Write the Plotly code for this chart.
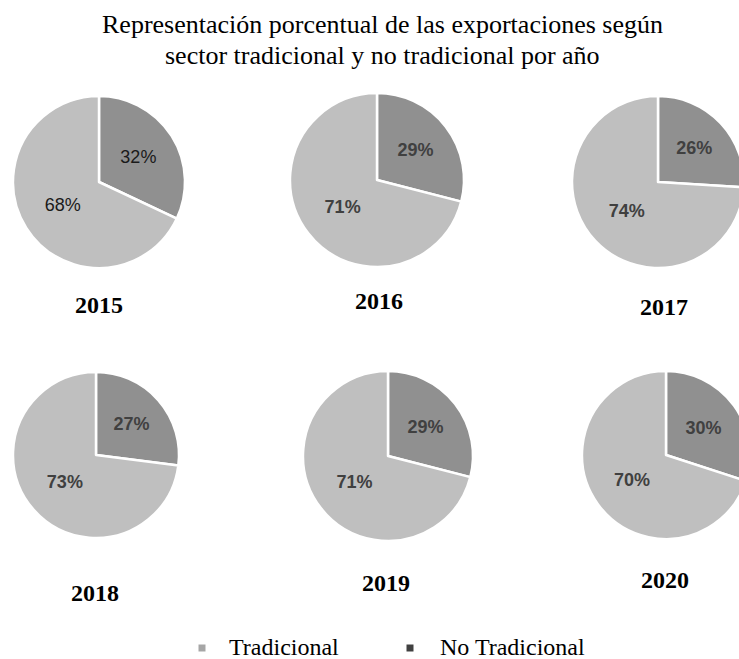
import plotly.graph_objects as go

years = ["2015", "2016", "2017", "2018", "2019", "2020"]
categories = ["No Tradicional", "Tradicional"]
no_tradicional = [32, 29, 26, 27, 29, 30]
tradicional = [68, 71, 74, 73, 71, 70]
title_lines = ["Representación porcentual de las exportaciones según",
               "sector tradicional y no tradicional por año"]

W, H = 780, 659
# pie centres (px) and radii
centers = [(99, 182, 86), (377, 180, 87), (658, 182, 86),
           (96, 455, 83), (388, 456, 85), (666, 455, 84)]
year_pos = [(99, 305), (379, 301), (664, 307), (95, 593), (386, 583), (665, 580)]

colors = ["#909090", "#bfbfbf"]

fig = go.Figure()
for i, y in enumerate(years):
    cx, cy, r = centers[i]
    bold = i > 0
    fig.add_trace(go.Pie(
        labels=categories,
        values=[no_tradicional[i], tradicional[i]],
        sort=False,
        direction="clockwise",
        rotation=0,
        marker=dict(colors=colors, line=dict(color="white", width=2.5)),
        texttemplate="%{percent:.0%}",
        textposition="inside",
        insidetextorientation="horizontal",
        textfont=dict(family="Liberation Sans", size=18,
                      color="#404040" if bold else "#1a1a1a",
                      weight="bold" if bold else "normal"),
        domain=dict(x=[(cx - r) / W, (cx + r) / W],
                    y=[1 - (cy + r) / H, 1 - (cy - r) / H]),
        showlegend=False,
        hoverinfo="label+percent",
    ))
    xp, yp = year_pos[i]
    fig.add_annotation(x=xp / W, y=1 - yp / H, xref="paper", yref="paper",
                       xanchor="center", yanchor="middle",
                       text="<b>%s</b>" % y, showarrow=False,
                       font=dict(family="Liberation Serif", size=24, color="#000000"))

# legend
legend_items = [("Tradicional", "#a6a6a6", 202, 227), ("No Tradicional", "#404040", 410, 438)]
for name, col, mx, tx in legend_items:
    fig.add_shape(type="rect", xref="paper", yref="paper",
                  x0=(mx - 3.5) / W, x1=(mx + 3.5) / W,
                  y0=1 - (648 + 3.5) / H, y1=1 - (648 - 3.5) / H,
                  fillcolor=col, line=dict(width=0))
    fig.add_annotation(x=tx / W, y=1 - 647 / H, xref="paper", yref="paper",
                       xanchor="left", yanchor="middle", text=name, showarrow=False,
                       font=dict(family="Liberation Serif", size=24, color="#000000"))

# title
for k, line in enumerate(title_lines):
    fig.add_annotation(x=382 / W, y=1 - (25 + 30 * k) / H, xref="paper", yref="paper",
                       xanchor="center", yanchor="middle", showarrow=False,
                       text=line,
                       font=dict(family="Liberation Serif", size=26, color="#000000"))

fig.update_layout(
    width=W, height=H,
    margin=dict(l=0, r=0, t=0, b=0),
    paper_bgcolor="white", plot_bgcolor="white",
)

fig.write_html("out.html", config={"displayModeBar": False},
               post_script="document.body.style.margin='0';document.body.style.overflow='hidden';")
